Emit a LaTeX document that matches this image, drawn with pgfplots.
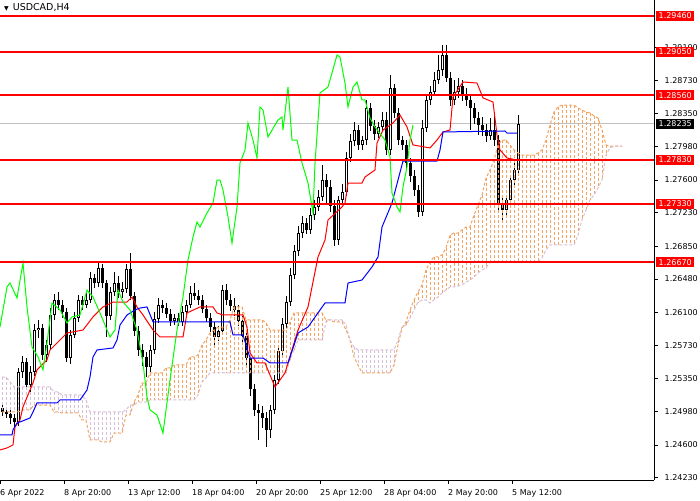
\documentclass[border=0pt]{standalone}
\usepackage{fontspec}
\setmainfont{DejaVu Sans}
\usepackage{pgfplots}
\usepackage{pgfplotstable}
\pgfplotsset{compat=1.18}
\definecolor{sandy}{RGB}{244,164,96}
\definecolor{thist}{RGB}{216,191,216}
\definecolor{chikou}{RGB}{0,255,0}
\definecolor{bidline}{RGB}{192,192,192}

% USDCAD H4 candles: bar, open, high, low, close
\pgfplotstableread{
i O H L C
0 1.25019 1.25065 1.24929 1.24974
1 1.24974 1.25019 1.24906 1.24952
2 1.24952 1.24997 1.24838 1.24906
3 1.24906 1.24952 1.24793 1.24861
4 1.24861 1.25472 1.24816 1.25427
5 1.25427 1.25608 1.25359 1.25540
6 1.25540 1.25585 1.25223 1.25280
7 1.25280 1.25495 1.25201 1.25427
8 1.25427 1.25970 1.25382 1.25902
9 1.25902 1.26016 1.25812 1.25925
10 1.25925 1.25970 1.25563 1.25619
11 1.25619 1.25789 1.25540 1.25733
12 1.25733 1.26151 1.25676 1.26072
13 1.26072 1.26310 1.26016 1.26242
14 1.26242 1.26333 1.26129 1.26185
15 1.26185 1.26242 1.26038 1.26106
16 1.26106 1.26151 1.25540 1.25585
17 1.25585 1.25902 1.25518 1.25846
18 1.25846 1.26106 1.25812 1.26038
19 1.26038 1.26299 1.25993 1.26242
20 1.26242 1.26287 1.26129 1.26185
21 1.26185 1.26321 1.26151 1.26242
22 1.26242 1.26559 1.26208 1.26491
23 1.26491 1.26536 1.26378 1.26434
24 1.26434 1.26672 1.26389 1.26604
25 1.26604 1.26650 1.26378 1.26434
26 1.26434 1.26468 1.25823 1.26061
27 1.26061 1.26389 1.26016 1.26333
28 1.26333 1.26559 1.26287 1.26434
29 1.26434 1.26514 1.26265 1.26333
30 1.26333 1.26446 1.26265 1.26367
31 1.26367 1.26650 1.26321 1.26593
32 1.26593 1.26774 1.26242 1.26287
33 1.26287 1.26333 1.25834 1.25891
34 1.25891 1.25948 1.25608 1.25676
35 1.25676 1.25744 1.25495 1.25597
36 1.25597 1.25653 1.25370 1.25484
37 1.25484 1.25733 1.25427 1.25676
38 1.25676 1.26106 1.25631 1.26027
39 1.26027 1.26265 1.25982 1.26185
40 1.26185 1.26242 1.26095 1.26151
41 1.26151 1.26208 1.26038 1.26084
42 1.26084 1.26140 1.25948 1.26004
43 1.26004 1.26084 1.25959 1.26038
44 1.26038 1.26095 1.25948 1.25993
45 1.25993 1.26174 1.25948 1.26106
46 1.26106 1.26242 1.26061 1.26185
47 1.26185 1.26400 1.26151 1.26321
48 1.26321 1.26434 1.26242 1.26287
49 1.26287 1.26355 1.26185 1.26242
50 1.26242 1.26299 1.26095 1.26140
51 1.26140 1.26185 1.25993 1.26038
52 1.26038 1.26095 1.25880 1.25936
53 1.25936 1.25993 1.25733 1.25823
54 1.25823 1.25948 1.25778 1.25891
55 1.25891 1.26412 1.25846 1.26355
56 1.26355 1.26423 1.26185 1.26242
57 1.26242 1.26310 1.26117 1.26174
58 1.26174 1.26265 1.26061 1.26129
59 1.26129 1.26185 1.25948 1.26004
60 1.26004 1.26061 1.25767 1.25834
61 1.25834 1.25880 1.25506 1.25585
62 1.25585 1.25619 1.25155 1.25235
63 1.25235 1.25291 1.24929 1.24997
64 1.24997 1.25065 1.24657 1.24963
65 1.24963 1.25042 1.24793 1.24906
66 1.24906 1.24974 1.24578 1.24770
67 1.24770 1.25053 1.24680 1.24997
68 1.24997 1.25393 1.24952 1.25336
69 1.25336 1.25733 1.25291 1.25665
70 1.25665 1.26038 1.25608 1.25970
71 1.25970 1.26287 1.25925 1.26219
72 1.26219 1.26604 1.26174 1.26525
73 1.26525 1.26865 1.26480 1.26797
74 1.26797 1.27080 1.26740 1.27000
75 1.27000 1.27193 1.26944 1.27114
76 1.27114 1.27170 1.26989 1.27034
77 1.27034 1.27283 1.26989 1.27204
78 1.27204 1.27374 1.27148 1.27295
79 1.27295 1.27487 1.27249 1.27408
80 1.27408 1.27770 1.27363 1.27600
81 1.27600 1.27668 1.27317 1.27521
82 1.27521 1.27600 1.27238 1.27306
83 1.27306 1.27374 1.26853 1.26921
84 1.26921 1.27419 1.26865 1.27374
85 1.27374 1.27555 1.27329 1.27465
86 1.27465 1.27917 1.27419 1.27849
87 1.27849 1.28121 1.27804 1.28042
88 1.28042 1.28257 1.27985 1.28166
89 1.28166 1.28223 1.27940 1.27997
90 1.27997 1.28098 1.27940 1.28053
91 1.28053 1.28506 1.27997 1.28415
92 1.28415 1.28472 1.28155 1.28212
93 1.28212 1.28280 1.28053 1.28121
94 1.28121 1.28257 1.28076 1.28200
95 1.28200 1.28370 1.28144 1.28280
96 1.28280 1.28370 1.27883 1.27940
97 1.27940 1.28789 1.27883 1.28642
98 1.28642 1.28687 1.28302 1.28359
99 1.28359 1.28415 1.27997 1.28053
100 1.28053 1.28098 1.27940 1.27997
101 1.27997 1.28053 1.27736 1.27793
102 1.27793 1.27849 1.27578 1.27646
103 1.27646 1.27714 1.27419 1.27487
104 1.27487 1.27544 1.27182 1.27238
105 1.27238 1.28280 1.27193 1.28189
106 1.28189 1.28574 1.28144 1.28506
107 1.28506 1.28664 1.28449 1.28597
108 1.28597 1.28823 1.28551 1.28732
109 1.28732 1.29015 1.28687 1.28846
110 1.28846 1.29129 1.28778 1.29015
111 1.29015 1.29129 1.28710 1.28755
112 1.28755 1.28823 1.28438 1.28506
113 1.28506 1.28732 1.28449 1.28597
114 1.28597 1.28755 1.28529 1.28664
115 1.28664 1.28732 1.28495 1.28551
116 1.28551 1.28642 1.28438 1.28506
117 1.28506 1.28563 1.28166 1.28415
118 1.28415 1.28472 1.28234 1.28302
119 1.28302 1.28370 1.28110 1.28223
120 1.28223 1.28314 1.28098 1.28166
121 1.28166 1.28234 1.28031 1.28098
122 1.28098 1.28302 1.28053 1.28166
123 1.28166 1.28370 1.27985 1.28053
124 1.28053 1.28110 1.27238 1.27317
125 1.27317 1.27397 1.27148 1.27261
126 1.27261 1.27431 1.27170 1.27374
127 1.27374 1.27657 1.27317 1.27600
128 1.27600 1.27804 1.27532 1.27714
129 1.27714 1.28336 1.27668 1.28234
}\candles

% Senkou span A and B (already shifted 26 bars ahead)
\pgfplotstableread{
i A B
0 1.24974 1.25370
1 1.24974 1.25370
2 1.24974 1.25314
3 1.24974 1.25257
4 1.24974 1.25257
5 1.24997 1.25257
6 1.24997 1.25257
7 1.24997 1.25257
8 1.25053 1.25257
9 1.25053 1.25257
10 1.25053 1.25257
11 1.25053 1.25257
12 1.25053 1.25257
13 1.24974 1.25201
14 1.24974 1.25201
15 1.24963 1.25167
16 1.24963 1.25167
17 1.24963 1.25167
18 1.24963 1.25167
19 1.24963 1.25167
20 1.24884 1.25167
21 1.24884 1.25110
22 1.24657 1.24974
23 1.24657 1.24974
24 1.24657 1.24974
25 1.24635 1.24974
26 1.24635 1.24974
27 1.24635 1.24974
28 1.24736 1.24974
29 1.24736 1.24974
30 1.24736 1.24974
31 1.24940 1.24997
32 1.24940 1.25053
33 1.25087 1.25053
34 1.25167 1.25087
35 1.25302 1.25087
36 1.25302 1.25087
37 1.25416 1.25110
38 1.25416 1.25110
39 1.25416 1.25110
40 1.25416 1.25110
41 1.25472 1.25110
42 1.25472 1.25110
43 1.25506 1.25110
44 1.25506 1.25110
45 1.25506 1.25110
46 1.25506 1.25110
47 1.25597 1.25110
48 1.25597 1.25110
49 1.25619 1.25167
50 1.25733 1.25314
51 1.25789 1.25359
52 1.25868 1.25416
53 1.25902 1.25416
54 1.25936 1.25416
55 1.25936 1.25416
56 1.25936 1.25416
57 1.26016 1.25416
58 1.26163 1.25416
59 1.26163 1.25416
60 1.26163 1.25416
61 1.26016 1.25416
62 1.26016 1.25416
63 1.26016 1.25416
64 1.26016 1.25416
65 1.26016 1.25416
66 1.25982 1.25416
67 1.25902 1.25416
68 1.25902 1.25416
69 1.25902 1.25416
70 1.25902 1.25416
71 1.25902 1.25416
72 1.25993 1.25563
73 1.26095 1.25676
74 1.26095 1.25789
75 1.26095 1.25789
76 1.26095 1.25789
77 1.26095 1.25789
78 1.26095 1.25789
79 1.26095 1.25789
80 1.26095 1.25789
81 1.26016 1.25993
82 1.26016 1.26016
83 1.25993 1.26016
84 1.25993 1.26016
85 1.25993 1.26016
86 1.25902 1.25959
87 1.25789 1.25789
88 1.25597 1.25710
89 1.25506 1.25676
90 1.25416 1.25676
91 1.25416 1.25676
92 1.25416 1.25676
93 1.25416 1.25676
94 1.25416 1.25676
95 1.25416 1.25676
96 1.25416 1.25676
97 1.25416 1.25676
98 1.25506 1.25676
99 1.25733 1.25789
100 1.25925 1.25936
101 1.25993 1.25959
102 1.26129 1.26038
103 1.26242 1.26129
104 1.26333 1.26219
105 1.26412 1.26242
106 1.26582 1.26242
107 1.26672 1.26208
108 1.26729 1.26242
109 1.26729 1.26276
110 1.26751 1.26321
111 1.26831 1.26355
112 1.26978 1.26389
113 1.27000 1.26389
114 1.27000 1.26400
115 1.27034 1.26412
116 1.27068 1.26446
117 1.27068 1.26468
118 1.27204 1.26502
119 1.27317 1.26548
120 1.27431 1.26582
121 1.27623 1.26604
122 1.27714 1.26672
123 1.27827 1.26672
124 1.27997 1.26672
125 1.28053 1.26672
126 1.28053 1.26672
127 1.27997 1.26672
128 1.27940 1.26672
129 1.27906 1.26672
130 1.27883 1.26672
131 1.27883 1.26672
132 1.27883 1.26672
133 1.27883 1.26672
134 1.27906 1.26672
135 1.27940 1.26717
136 1.28053 1.26808
137 1.28223 1.26865
138 1.28370 1.26865
139 1.28427 1.26865
140 1.28449 1.26865
141 1.28449 1.26865
142 1.28449 1.26865
143 1.28449 1.26865
144 1.28415 1.26978
145 1.28393 1.27148
146 1.28370 1.27261
147 1.28359 1.27374
148 1.28325 1.27431
149 1.28302 1.27510
150 1.28166 1.27600
151 1.27997 1.27883
152 1.27985 1.27963
153 1.27985 1.27985
154 1.27985 1.27985
155 1.27985 1.27985
}\cloud

% Tenkan-sen
\pgfplotstableread{
x y
-0.5 1.24544
1.25 1.24567
2.75 1.24601
3.25 1.24804
4.5 1.24884
5.25 1.25031
7 1.25223
7.75 1.25302
8.75 1.25450
11.25 1.25563
12 1.25676
16.25 1.25868
20.25 1.25902
22.75 1.26050
25.25 1.26163
27.75 1.26219
31.25 1.26219
32.5 1.26276
33.75 1.26163
35.25 1.26072
37.75 1.25902
39.5 1.25823
45.25 1.25823
46.25 1.26095
49.5 1.26163
52.75 1.26163
53.75 1.26095
55.25 1.26072
60.25 1.26072
61.25 1.25936
62 1.25642
63.75 1.25529
65.75 1.25529
68.25 1.25257
70.75 1.25416
74 1.25902
76.5 1.26163
79 1.26729
80.75 1.26921
81.5 1.27148
85 1.27295
85.75 1.27340
86.5 1.27566
90 1.27566
90.75 1.27634
93.25 1.27714
93.75 1.28019
95.25 1.28166
97.75 1.28246
99.5 1.28336
101.25 1.28200
102.75 1.27997
107 1.27963
108.75 1.28053
110.25 1.28144
112 1.28166
112.75 1.28540
115.25 1.28710
118.75 1.28698
120.25 1.28529
122.75 1.28483
123.75 1.28110
124.5 1.27940
126.25 1.27849
128.75 1.27827
}\tenkan

% Kijun-sen
\pgfplotstableread{
x y
-0.5 1.24714
2.5 1.24714
2.75 1.24770
3.75 1.24850
4.5 1.24861
7 1.24906
7.75 1.24974
8.75 1.25076
13.75 1.25076
14.5 1.25110
19.5 1.25110
21.25 1.25223
22 1.25370
22.75 1.25597
23.75 1.25676
27.75 1.25699
28.75 1.25789
29.5 1.25959
31.25 1.26072
33.25 1.26129
34.5 1.26151
36.25 1.26163
37.75 1.25993
57 1.25993
57.75 1.25846
60.25 1.25846
62 1.25585
65.25 1.25585
67 1.25529
71.5 1.25529
74 1.25868
76.5 1.25936
80.75 1.26208
85.75 1.26208
86.5 1.26434
90 1.26468
92.5 1.26616
94 1.26729
95 1.27068
97.5 1.27340
99 1.27600
100.25 1.27815
108.75 1.27815
109.5 1.27940
110.25 1.28144
125.75 1.28155
126.25 1.28132
128.75 1.28132
}\kijun

% Chikou span (close shifted 26 bars back)
\pgfplotstableread{
x y
-0.5 1.25936
1.25 1.26389
2 1.26434
3.75 1.26265
5.25 1.26661
6.25 1.26163
7.5 1.25710
9 1.25597
10.25 1.25450
11.25 1.25755
12.5 1.26208
14.5 1.26129
16.25 1.25982
17.5 1.26050
19.5 1.26072
21.25 1.26355
22.75 1.26276
24.5 1.26095
27 1.25823
28.25 1.25902
29 1.26355
30.25 1.26219
32 1.26129
33.75 1.25902
35.25 1.25529
36.25 1.25144
37 1.24997
38.75 1.24940
40.25 1.24736
42 1.25336
43.75 1.25902
45.25 1.26276
46.5 1.26695
47.75 1.26955
48.75 1.27125
49.5 1.27068
51.25 1.27227
52.75 1.27340
53.75 1.27600
54.5 1.27600
55.25 1.27487
56.5 1.27182
57.5 1.26887
58.75 1.27295
59.5 1.27793
60.75 1.27940
61.5 1.28246
62.75 1.28053
63.75 1.27849
64.5 1.28427
65.25 1.28393
66.5 1.28087
69 1.28280
70 1.28314
70.25 1.28166
71.5 1.28653
72.5 1.28053
73.75 1.28053
75 1.27793
76.5 1.27566
77.75 1.27227
78.25 1.27793
79.5 1.28585
81.5 1.28653
82.5 1.28812
83.75 1.29015
84.5 1.28993
85.75 1.28698
86.5 1.28427
87.75 1.28653
88.75 1.28710
90 1.28506
90.75 1.28506
92 1.28302
93.25 1.28200
95.75 1.28053
97 1.27861
97.5 1.27453
98.75 1.27295
99.5 1.27238
100.25 1.27521
101.25 1.27748
102 1.28053
102.75 1.28223
}\chikou

\begin{document}
\begin{tikzpicture}
\useasboundingbox (0,0) rectangle (700pt,500pt);
\begin{axis}[
  at={(0pt,500pt)}, anchor=north west,
  scale only axis, width=654pt, height=480pt,
  xmin=-0.5, xmax=163, ymin=1.24204, ymax=1.29638,
  axis x line*=bottom, axis y line*=right,
  axis line style={-, black, line width=1pt},
  tick align=outside, major tick length=4pt,
  tick style={black, line width=0.8pt},
  xtick={-0.5,15.5,31.5,47.5,63.5,79.5,95.5,111.5,127.5},
  xticklabels={6 Apr 2022,8 Apr 20:00,13 Apr 12:00,18 Apr 04:00,20 Apr 20:00,25 Apr 12:00,28 Apr 04:00,2 May 20:00,5 May 12:00},
  xticklabel style={anchor=north west, inner sep=0pt, yshift=-5pt, font=\fontsize{8}{9}\selectfont},
  ytick={1.2423,1.2460,1.2498,1.2535,1.2573,1.2610,1.2648,1.2685,1.2723,1.2760,1.2798,1.2835,1.2873,1.2910},
  yticklabel={\pgfmathprintnumber[fixed,precision=5,zerofill]{\tick}},
  yticklabel style={anchor=west, inner sep=0pt, xshift=6.5pt, font=\fontsize{8}{9}\selectfont},
  /pgf/number format/assume math mode=true,
]
% bid line
\addplot[bidline, line width=1pt] coordinates {(-0.5,1.28235) (163,1.28235)};

% candle wicks
\addplot[draw=none, error bars/.cd, y dir=plus, y explicit, error mark=none,
  error bar style={draw=black, line width=1pt, solid}]
  table[x=i, y=L, y error plus expr={\thisrow{H}-\thisrow{L}}] {\candles};
% candle bodies
\addplot[draw=none, error bars/.cd, y dir=both, y explicit, error mark=none,
  error bar style={draw=black, line width=3pt, solid}]
  table[x=i, y=O, y error plus expr={max(\thisrow{C}-\thisrow{O},0)},
        y error minus expr={max(\thisrow{O}-\thisrow{C},0)}] {\candles};
% hollow inside of rising candles
\addplot[draw=none, error bars/.cd, y dir=plus, y explicit, error mark=none,
  error bar style={draw=white, line width=1pt, solid}]
  table[x=i, y expr={\thisrow{O}+0.000113},
        y error plus expr={max(\thisrow{C}-\thisrow{O}-0.000226,0)}] {\candles};

% kumo hatch
\addplot[draw=none, error bars/.cd, y dir=minus, y explicit, error mark=none,
  error bar style={draw=sandy, line width=1pt, dash pattern=on 3pt off 2pt}]
  table[x=i, y=A, y error minus expr={max(\thisrow{A}-\thisrow{B},0)}] {\cloud};
\addplot[draw=none, error bars/.cd, y dir=minus, y explicit, error mark=none,
  error bar style={draw=thist, line width=1pt, dash pattern=on 3pt off 2pt}]
  table[x=i, y=B, y error minus expr={max(\thisrow{B}-\thisrow{A},0)}] {\cloud};
\addplot[sandy, line width=1pt, dash pattern=on 3pt off 2pt] table[x=i, y=A] {\cloud};
\addplot[thist, line width=1pt, dash pattern=on 3pt off 2pt] table[x=i, y=B] {\cloud};

% tenkan, kijun, chikou
\addplot[red, line width=1pt] table[x=x, y=y] {\tenkan};
\addplot[blue, line width=1pt] table[x=x, y=y] {\kijun};
\addplot[chikou, line width=1pt] table[x=x, y=y] {\chikou};

% horizontal levels
\addplot[red, line width=2pt] coordinates {(-0.5,1.29460) (163,1.29460)};
\addplot[red, line width=2pt] coordinates {(-0.5,1.29050) (163,1.29050)};
\addplot[red, line width=2pt] coordinates {(-0.5,1.28560) (163,1.28560)};
\addplot[red, line width=2pt] coordinates {(-0.5,1.27830) (163,1.27830)};
\addplot[red, line width=2pt] coordinates {(-0.5,1.27330) (163,1.27330)};
\addplot[red, line width=2pt] coordinates {(-0.5,1.26670) (163,1.26670)};

\coordinate (l1) at (axis cs:163,1.29460);
\coordinate (l2) at (axis cs:163,1.29050);
\coordinate (l3) at (axis cs:163,1.28560);
\coordinate (l4) at (axis cs:163,1.27830);
\coordinate (l5) at (axis cs:163,1.27330);
\coordinate (l6) at (axis cs:163,1.26670);
\coordinate (bid) at (axis cs:163,1.28235);
\node[anchor=north west, inner sep=0pt, font=\fontsize{9.5}{10}\selectfont]
  at ([xshift=4pt,yshift=-3pt]rel axis cs:0,1) {{\fontsize{6}{6}\selectfont ▼}\hspace{4pt}USDCAD,H4};
\end{axis}
\tikzset{lvl/.style={anchor=west, fill=red, text=white, inner xsep=2.5pt, inner ysep=2pt,
  font=\fontsize{8}{9}\selectfont}}
\node[lvl] at ([xshift=2pt]l1) {1.29460};
\node[lvl] at ([xshift=2pt]l2) {1.29050};
\node[lvl] at ([xshift=2pt]l3) {1.28560};
\node[lvl] at ([xshift=2pt]l4) {1.27830};
\node[lvl] at ([xshift=2pt]l5) {1.27330};
\node[lvl] at ([xshift=2pt]l6) {1.26670};
\node[lvl, fill=black] at ([xshift=2pt]bid) {1.28235};
\end{tikzpicture}
\end{document}
